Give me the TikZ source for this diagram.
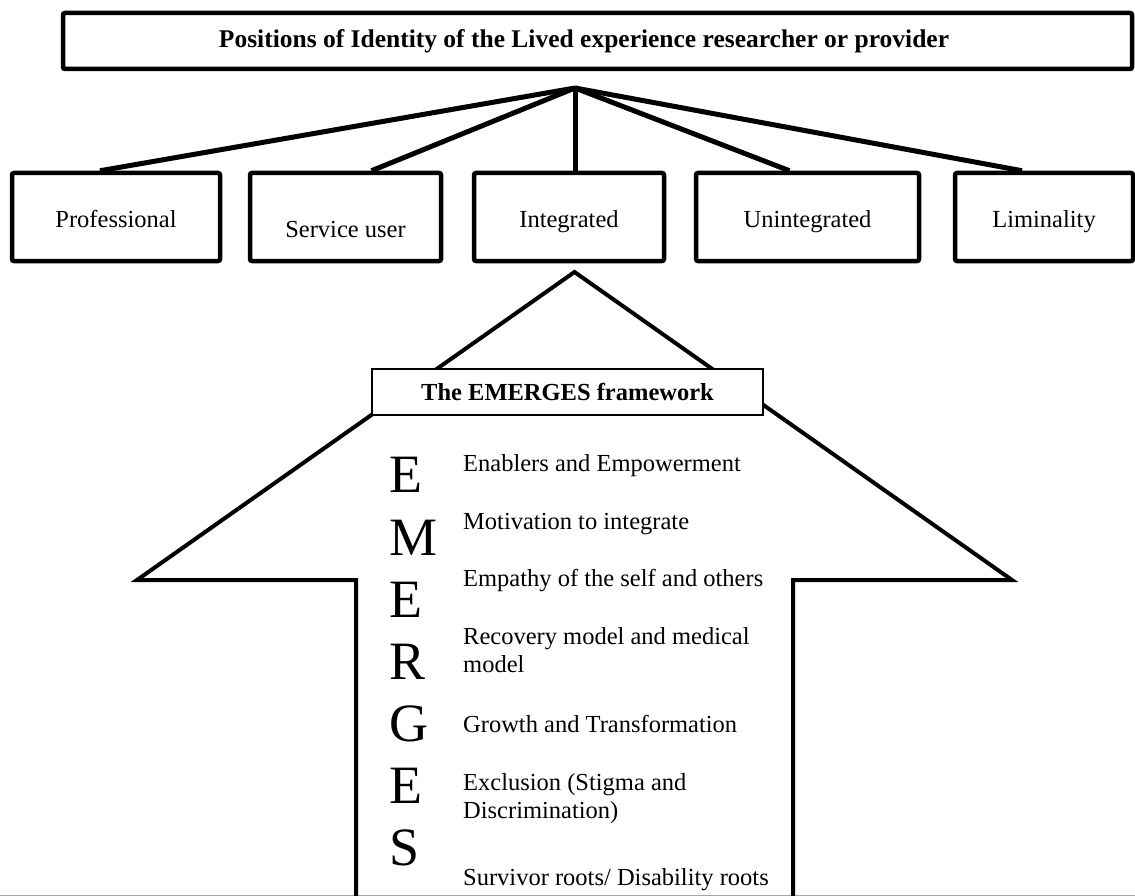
\documentclass[tikz,border=0pt]{standalone}
\usepackage{fontspec}
\setmainfont{Liberation Serif}
\usetikzlibrary{calc}
\tikzset{
  thickbox/.style={draw, line width=4.5pt, rounded corners=2pt, minimum height=88pt, inner sep=0pt, text height=27pt, text depth=5pt, font=\fontsize{24.5}{28}\selectfont},
  hubline/.style={line width=5pt},
  arrowline/.style={line width=4pt, line join=miter},
  bigletter/.style={anchor=base west, inner sep=0pt, font=\fontsize{54}{60}\selectfont},
  itemtext/.style={anchor=base west, inner sep=0pt, align=left, font=\fontsize{24.5}{28}\selectfont},
}
\begin{document}
\begin{tikzpicture}[x=1pt, y=-1pt]
\useasboundingbox (0,0) rectangle (1135,896);
% bottom cut line
\draw[gray!70, line width=1pt] (0,895) -- (1135,895);
% title box
\node[draw, line width=4.5pt, rounded corners=2pt, minimum width=1069pt, minimum height=56pt, inner sep=0pt] (title) at (597.5,41) {};
\node[inner sep=0pt, font=\bfseries\fontsize{25.5}{28}\selectfont] (titletext) at (584,41) {Positions of Identity of the Lived experience researcher or provider};
% category boxes
\node[thickbox, minimum width=208pt] (prof) at (116,217) {Professional};
\node[thickbox, minimum width=191pt, text height=46pt] (serv) at (345.5,217) {Service user};
\node[thickbox, minimum width=190pt] (integ) at (569,217) {Integrated};
\node[thickbox, minimum width=223pt] (uninteg) at (807.5,217) {Unintegrated};
\node[thickbox, minimum width=178pt] (limin) at (1044,217) {Liminality};
% hub
\coordinate (hub) at (575,88);
\draw[hubline] (hub) -- ([xshift=-16pt]prof.north);
\draw[hubline] (hub) -- ([xshift=26pt]serv.north);
\draw[hubline] (hub) -- (hub |- integ.north);
\draw[hubline] (hub) -- ([xshift=-18pt]uninteg.north);
\draw[hubline] (hub) -- ([xshift=-22pt]limin.north);
% big arrow
\coordinate (apex) at (574.5,272);
\draw[arrowline] (356,896) -- (356,580) -- (137,580) -- (apex) -- (1012,580) -- (793,580) -- (793,896);
% framework box
\node[draw, fill=white, line width=1.2pt, minimum width=391pt, minimum height=46pt, inner sep=0pt, font=\bfseries\fontsize{24.5}{28}\selectfont] (frame) at (567.5,392) {The EMERGES framework};
% letters
\node[bigletter] (l1) at (389,492) {E};
\node[bigletter] (l2) at (389,555) {M};
\node[bigletter] (l3) at (389,617) {E};
\node[bigletter] (l4) at (389,679) {R};
\node[bigletter] (l5) at (389,741) {G};
\node[bigletter] (l6) at (389,803) {E};
\node[bigletter] (l7) at (389,865) {S};
% item texts
\node[itemtext] (t1) at (463,471) {Enablers and Empowerment};
\node[itemtext] (t2) at (463,529) {Motivation to integrate};
\node[itemtext] (t3) at (463,586) {Empathy of the self and others};
\node[itemtext] (t4) at (463,672) {Recovery model and medical\\model};
\node[itemtext] (t5) at (463,732) {Growth and Transformation};
\node[itemtext] (t6) at (463,818) {Exclusion (Stigma and\\Discrimination)};
\node[itemtext] (t7) at (463,885) {Survivor roots/ Disability roots};
\end{tikzpicture}
\end{document}
